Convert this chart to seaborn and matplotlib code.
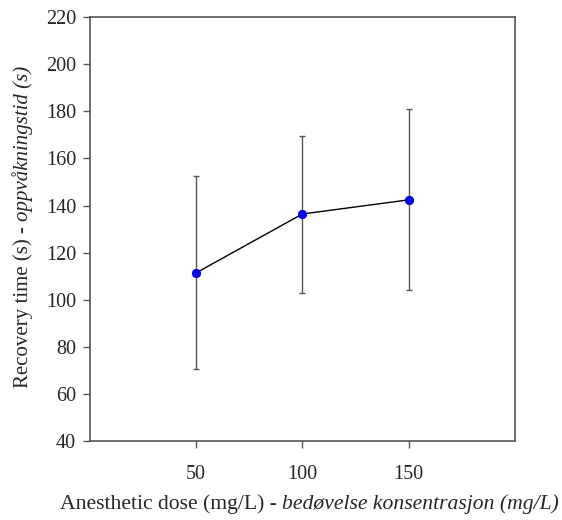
import matplotlib
matplotlib.use("Agg")
import matplotlib.pyplot as plt
import seaborn as sns
import pandas as pd

# values
dose = [50, 100, 150]
recovery_mean = [111.4, 136.4, 142.4]
err_low = [70.4, 102.7, 104.1]
err_high = [152.6, 169.7, 180.8]

df = pd.DataFrame({"dose": dose, "recovery": recovery_mean})

sns.set_style("ticks")
plt.rcParams["font.family"] = ["Liberation Serif", "DejaVu Serif"]

fig = plt.figure(figsize=(5.62, 5.2), dpi=100)
ax = fig.add_axes([0.160, 0.152, 0.756, 0.815])

# error bars (asymmetric)
yerr = [[m - lo for m, lo in zip(recovery_mean, err_low)],
        [hi - m for m, hi in zip(recovery_mean, err_high)]]
ax.errorbar(dose, recovery_mean, yerr=yerr, fmt="none", ecolor="#555555",
            elinewidth=1.0, capsize=2.5, capthick=1.0, zorder=2)

sns.lineplot(data=df, x="dose", y="recovery", ax=ax, color="black", linewidth=1.0,
             marker="o", markersize=6, markerfacecolor="#0000ff",
             markeredgecolor="#0000cc", markeredgewidth=0.6, zorder=3)

ax.set_xlim(0, 200)
ax.set_ylim(40, 220)
ax.set_xticks(dose)
ax.set_yticks(range(40, 221, 20))
ax.tick_params(axis="both", labelsize=14.5, length=5, width=1.0, color="#555555",
               direction="out")
ax.tick_params(axis="x", pad=12)
ax.tick_params(axis="y", pad=5)
for s in ax.spines.values():
    s.set_color("#555555")
    s.set_linewidth(1.2)
ax.set_xlabel("")
ax.set_ylabel("")

# axis titles: normal part followed by italic part
fig.canvas.draw()
r = fig.canvas.get_renderer()

tx = fig.text(60 / 562, 1 - 504 / 520, "Anesthetic dose (mg/L) - ", fontsize=15.6,
              ha="left", va="center")
bb = tx.get_window_extent(renderer=r)
fig.text(bb.x1 / fig.bbox.width, 1 - 504 / 520, "bedøvelse konsentrasjon (mg/L)",
         fontsize=15.6, fontstyle="italic", ha="left", va="center")

ty = fig.text(23 / 562, 1 - 388 / 520, "Recovery time (s) - ", fontsize=15,
              rotation=90, ha="center", va="bottom")
bby = ty.get_window_extent(renderer=r)
fig.text(23 / 562, bby.y1 / fig.bbox.height, "oppvåkningstid (s)", fontsize=15,
         fontstyle="italic", rotation=90, ha="center", va="bottom")

fig.savefig("out.png", dpi=100)
